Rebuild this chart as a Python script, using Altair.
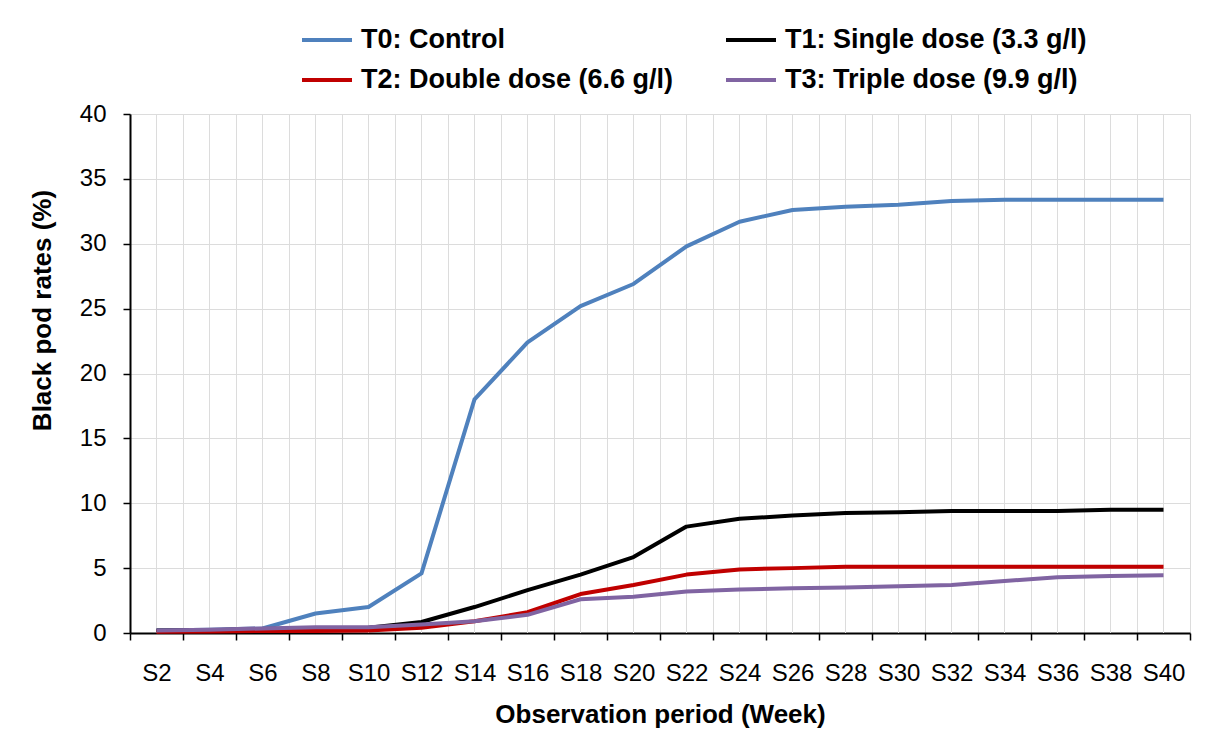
import altair as alt
import pandas as pd

weeks = ["S2", "S4", "S6", "S8", "S10", "S12", "S14", "S16", "S18", "S20",
         "S22", "S24", "S26", "S28", "S30", "S32", "S34", "S36", "S38", "S40"]
series_names = ["T0: Control", "T1: Single dose (3.3 g/l)",
                "T2: Double dose (6.6 g/l)", "T3: Triple dose (9.9 g/l)"]
t0 = [0.2, 0.25, 0.35, 1.5, 2.0, 4.6, 18.0, 22.4, 25.2, 26.9,
      29.8, 31.7, 32.6, 32.85, 33.0, 33.3, 33.4, 33.4, 33.4, 33.4]
t1 = [0.2, 0.22, 0.3, 0.35, 0.4, 0.85, 2.0, 3.3, 4.5, 5.85,
      8.2, 8.8, 9.05, 9.25, 9.3, 9.4, 9.4, 9.4, 9.5, 9.5]
t2 = [0.1, 0.12, 0.15, 0.15, 0.2, 0.4, 0.9, 1.6, 3.0, 3.7,
      4.5, 4.9, 5.0, 5.1, 5.1, 5.1, 5.1, 5.1, 5.1, 5.1]
t3 = [0.2, 0.25, 0.35, 0.45, 0.45, 0.65, 0.9, 1.4, 2.6, 2.8,
      3.2, 3.35, 3.45, 3.5, 3.6, 3.7, 4.0, 4.3, 4.4, 4.45]
colors = ["#4f81bd", "#000000", "#c00000", "#8064a2"]
y_ticks = [0, 5, 10, 15, 20, 25, 30, 35, 40]

rows = []
for name, vals in zip(series_names, [t0, t1, t2, t3]):
    for w, v in zip(weeks, vals):
        rows.append({"week": w, "series": name, "value": v})
df = pd.DataFrame(rows)
wk = pd.DataFrame({"week": weeks})

FONT = "Liberation Sans"
xscale = alt.Scale(type="band", domain=weeks, paddingInner=0, paddingOuter=0)
x_axis = alt.Axis(title="Observation period (Week)", tickBand="extent",
                  grid=True, gridColor="#dcdcdc", labelAngle=0,
                  labelFontSize=24, labelFont=FONT, labelColor="#000",
                  labelPadding=21, tickSize=7, tickColor="#000", tickWidth=1.5,
                  domainColor="#000", domainWidth=2,
                  titleFontSize=26, titleFont=FONT, titleFontWeight="bold",
                  titleColor="#000", titleY=89, titleBaseline="alphabetic")

center_grid = alt.Chart(wk).mark_rule(color="#dcdcdc", strokeWidth=1).encode(
    x=alt.X("week:O", scale=xscale, sort=weeks, axis=x_axis)
)

lines = alt.Chart(df).mark_line(strokeWidth=4, strokeJoin="round").encode(
    x=alt.X("week:O", scale=xscale, sort=weeks, axis=x_axis),
    y=alt.Y("value:Q", scale=alt.Scale(domain=[0, 40], nice=False),
            axis=alt.Axis(title="Black pod rates (%)", values=y_ticks,
                          grid=True, gridColor="#dcdcdc",
                          labelFontSize=24, labelFont=FONT, labelColor="#000",
                          labelPadding=17, tickSize=7, tickColor="#000", tickWidth=1.5,
                          domainColor="#000", domainWidth=2,
                          titleFontSize=26, titleFont=FONT, titleFontWeight="bold",
                          titleColor="#000", titleX=-88, titleY=196,
                          titleBaseline="middle")),
    color=alt.Color("series:N", scale=alt.Scale(domain=series_names, range=colors),
                    legend=alt.Legend(title=None, orient="none", legendX=170, legendY=-101,
                                      columns=2, direction="horizontal",
                                      symbolType="stroke", symbolSize=2500,
                                      symbolStrokeWidth=4, labelFontSize=27,
                                      labelFont=FONT, labelFontWeight="bold",
                                      labelColor="#000", labelOffset=7,
                                      columnPadding=44, rowPadding=-9,
                                      labelLimit=500, padding=0)),
    order=alt.Order("series:N"),
)

chart = alt.layer(center_grid, lines).properties(
    width=1060, height=519,
    autosize=alt.AutoSizeParams(type="none"),
    padding={"left": 122, "top": 106, "right": 20, "bottom": 98},
).configure_view(fill="#eaeaea", stroke=None).configure(background="white")

chart.save("out.html", embed_options={"renderer": "svg", "actions": False})
